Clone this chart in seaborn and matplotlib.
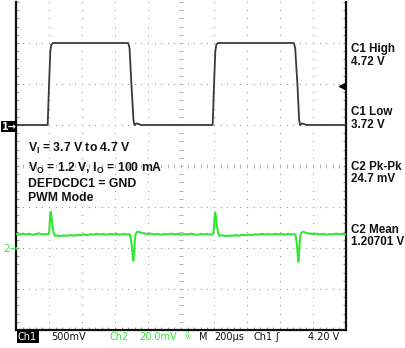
import numpy as np
import matplotlib
matplotlib.use("Agg")
import matplotlib.pyplot as plt
import seaborn as sns

# ---------------- data ----------------
# Channel 1: input voltage step (time in us, value in V)
ch1_time_us = [0, 192, 200, 208, 214, 224, 680, 688, 700, 712, 718, 730, 760,
               1192, 1200, 1208, 1214, 1224, 1684, 1692, 1706, 1716, 1722, 1735, 1760, 2000]
ch1_volts = [3.72, 3.72, 4.20, 4.62, 4.70, 4.72, 4.72, 4.66, 4.20, 3.78, 3.72, 3.74, 3.72,
             3.72, 4.20, 4.62, 4.70, 4.72, 4.72, 4.66, 4.20, 3.78, 3.72, 3.74, 3.72, 3.72]

# Channel 2: output voltage, AC deviation from 1.2 V (time in us, value in mV)
ch2_time_us = [0, 20, 40, 60, 80, 100, 120, 140, 160, 180, 196, 202, 206, 210, 214, 220, 228, 236,
               250, 270, 290, 310, 330, 350, 370, 390, 410, 430, 450, 470, 490, 510, 530, 550,
               570, 590, 610, 630, 650, 670, 688, 694, 700, 706, 711, 715, 719, 724, 732, 745,
               760, 780, 800, 820, 840, 860, 880, 900, 920, 940, 960, 980, 1000, 1020, 1040,
               1060, 1080, 1100, 1120, 1140, 1160, 1180, 1194, 1199, 1203, 1207, 1211, 1217,
               1225, 1233, 1250, 1270, 1290, 1310, 1330, 1350, 1370, 1390, 1410, 1430, 1450,
               1470, 1490, 1510, 1530, 1550, 1570, 1590, 1610, 1630, 1650, 1670, 1690, 1696,
               1702, 1707, 1711, 1715, 1719, 1724, 1732, 1745, 1760, 1780, 1800, 1820, 1840,
               1860, 1880, 1900, 1920, 1940, 1960, 1980, 2000]
ch2_mv = [6.9, 6.5, 7.0, 6.6, 6.9, 6.4, 6.8, 7.1, 6.6, 6.8, 6.6, 8.5, 14.5, 17.7, 16.0, 11.5, 7.5, 5.9,
          6.1, 5.8, 6.2, 5.9, 6.3, 6.0, 6.4, 6.2, 6.6, 6.3, 6.7, 6.5, 6.9, 6.6, 6.8, 6.5,
          6.9, 6.6, 6.8, 6.5, 6.9, 6.6, 6.7, 5.5, 2.0, -2.5, -6.2, -3.5, 2.5, 6.5, 7.8, 7.9,
          7.4, 7.1, 6.8, 7.0, 6.6, 6.9, 6.5, 6.8, 6.6, 7.0, 6.7, 6.9, 6.5, 6.8, 6.6,
          7.0, 6.7, 6.4, 6.9, 6.6, 6.8, 6.5, 6.7, 9.0, 14.5, 17.4, 15.5, 11.0,
          7.3, 5.9, 6.2, 5.8, 6.1, 5.9, 6.3, 6.0, 6.4, 6.2, 6.5, 6.3, 6.7,
          6.5, 6.9, 6.6, 6.8, 6.5, 6.9, 6.6, 6.8, 6.5, 6.9, 6.6, 6.7, 5.6,
          2.0, -2.8, -6.7, -3.6, 2.4, 6.4, 7.7, 7.8, 7.3, 7.0, 6.8, 7.0, 6.6,
          6.9, 6.5, 6.8, 6.6, 7.0, 6.7, 6.9, 6.6]

# scope settings
time_per_div_us = 200
ch1_volts_per_div = 0.5
ch1_offset_v = 3.22
ch2_mv_per_div = 20.0
ch2_ref_div = -2.0
ch1_ref_div = 1.0
trigger_level_v = 4.20

measure_labels = [("C1 High", "4.72 V"), ("C1 Low", "3.72 V"),
                  ("C2 Pk-Pk", "24.7 mV"), ("C2 Mean", "1.20701 V")]
condition_lines = [r"V$_\mathregular{I}$ = 3.7 V to 4.7 V",
                   r"V$_\mathregular{O}$ = 1.2 V, I$_\mathregular{O}$ = 100 mA",
                   "DEFDCDC1 = GND",
                   "PWM Mode"]

# ---------------- figure ----------------
sns.set_theme(style="white")
plt.rcParams['font.family'] = ['Liberation Sans', 'DejaVu Sans']
plt.rcParams['mathtext.default'] = 'regular'

W, H = 406, 348
fig = plt.figure(figsize=(W / 100, H / 100), dpi=100)
fig.patch.set_facecolor("white")
ax = fig.add_axes([16 / W, (H - 330) / H, 330 / W, 328 / H])
ax.set_facecolor("white")
ax.set_xlim(0, 10)
ax.set_ylim(-4, 4)

GREEN = "#33e633"
GRID = "#9a9a9a"
GRID_T = "#b4b4b4"

# graticule dots
minor_x = np.arange(0, 10.001, 0.2)
minor_y = np.arange(-4, 4.001, 0.2)
for gx in range(1, 10):
    ax.plot(np.full_like(minor_y, gx), minor_y, ls="none", marker="s", ms=0.8,
            mec="none", mfc=GRID, zorder=1)
for gy in range(-3, 4):
    ax.plot(minor_x, np.full_like(minor_x, gy), ls="none", marker="s", ms=0.8,
            mec="none", mfc=GRID, zorder=1)
# center-line tick marks
ax.plot(np.full_like(minor_y, 5), minor_y, ls="none", marker="_", ms=3.5, mew=0.7,
        color=GRID_T, zorder=1)
ax.plot(minor_x, np.zeros_like(minor_x), ls="none", marker="|", ms=3.5, mew=0.7,
        color=GRID_T, zorder=1)

# traces
ch1_x = np.array(ch1_time_us) / time_per_div_us
ch1_y = (np.array(ch1_volts) - ch1_offset_v) / ch1_volts_per_div
ch2_x = np.array(ch2_time_us) / time_per_div_us
ch2_y = ch2_ref_div + np.array(ch2_mv) / ch2_mv_per_div
sns.lineplot(x=ch1_x, y=ch1_y, ax=ax, color="#3a3a3a", linewidth=1.3,
             estimator=None, sort=False, zorder=3)
sns.lineplot(x=ch2_x, y=ch2_y, ax=ax, color=GREEN, linewidth=1.5,
             estimator=None, sort=False, zorder=3)

# frame
for side in ["left", "right", "bottom"]:
    ax.spines[side].set_visible(True)
    ax.spines[side].set_color("#111111")
    ax.spines[side].set_linewidth(1.6)
ax.spines["top"].set_visible(False)
ax.set_xticks(range(0, 11))
ax.set_yticks(range(-4, 5))
ax.set_xticks(minor_x, minor=True)
ax.set_yticks(minor_y, minor=True)
ax.tick_params(which="both", direction="in", length=2.5, width=0.8, color=GRID,
               bottom=True, left=True, right=True, top=False,
               labelbottom=False, labelleft=False)
ax.set_xlabel("")
ax.set_ylabel("")

# trigger level arrow at right edge
ax.plot([9.88], [(trigger_level_v - ch1_offset_v) / ch1_volts_per_div], marker="<",
        ms=5, color="black", ls="none", clip_on=False, zorder=5)

def fx(px):
    return px / W

def fy(py):
    return 1 - py / H

# condition text
cond_baselines = [151.5, 171.5, 187, 201.5]
for s, yb in zip(condition_lines, cond_baselines):
    fig.text(fx(28), fy(yb), s, fontsize=8.8, fontweight="bold", color="#111111",
             va="baseline", ha="left")

# measurement labels
meas_baselines = [(52, 65), (115, 128.3), (170, 182.3), (233.3, 245)]
for (a, b), (ya, yb) in zip(measure_labels, meas_baselines):
    fig.text(fx(351), fy(ya), a, fontsize=8.4, fontweight="bold", color="#111111",
             va="baseline", ha="left")
    fig.text(fx(351), fy(yb), b, fontsize=8.4, fontweight="bold", color="#111111",
             va="baseline", ha="left")

# channel markers
fig.text(fx(1.5), fy(126.5), "1\u2192", fontsize=7, fontweight="bold", color="white",
         va="center", ha="left", family=["DejaVu Sans"],
         bbox=dict(boxstyle="square,pad=0.1", fc="black", ec="none"))
fig.text(fx(3), fy(248.5), "2\u2192", fontsize=7.5, color=GREEN,
         va="center", ha="left", family=["DejaVu Sans"])

# status bar
sb = 339.5
fsb = 7
fig.text(fx(18), fy(sb), "Ch1", fontsize=fsb, color="white", va="baseline", ha="left",
         family=["DejaVu Sans"],
         bbox=dict(boxstyle="square,pad=0.15", fc="black", ec="none"))
fig.text(fx(51), fy(sb), "500mV", fontsize=fsb, color="#111111", va="baseline",
         family=["DejaVu Sans"])
fig.text(fx(110), fy(sb), "Ch2", fontsize=fsb, color=GREEN, va="baseline",
         family=["DejaVu Sans"])
fig.text(fx(139), fy(sb), "20.0mV", fontsize=fsb, color=GREEN, va="baseline",
         family=["DejaVu Sans"])
fig.text(fx(185.5), fy(sb - 1), "$^{B}_{W}$", fontsize=5, color=GREEN, va="baseline",
         family=["DejaVu Sans"])
fig.text(fx(199), fy(sb), "M", fontsize=fsb, color="#111111", va="baseline",
         family=["DejaVu Sans"])
fig.text(fx(214), fy(sb), "200\u00b5s", fontsize=fsb, color="#111111", va="baseline",
         family=["DejaVu Sans"])
fig.text(fx(254), fy(sb), "Ch1", fontsize=fsb, color="#111111", va="baseline",
         family=["DejaVu Sans"])
fig.text(fx(275), fy(sb), "\u0283", fontsize=fsb, color="#111111", va="baseline",
         family=["DejaVu Sans"])
fig.text(fx(308), fy(sb), "4.20 V", fontsize=fsb, color="#111111", va="baseline",
         family=["DejaVu Sans"])

fig.savefig("out.png", dpi=100, facecolor="white")
